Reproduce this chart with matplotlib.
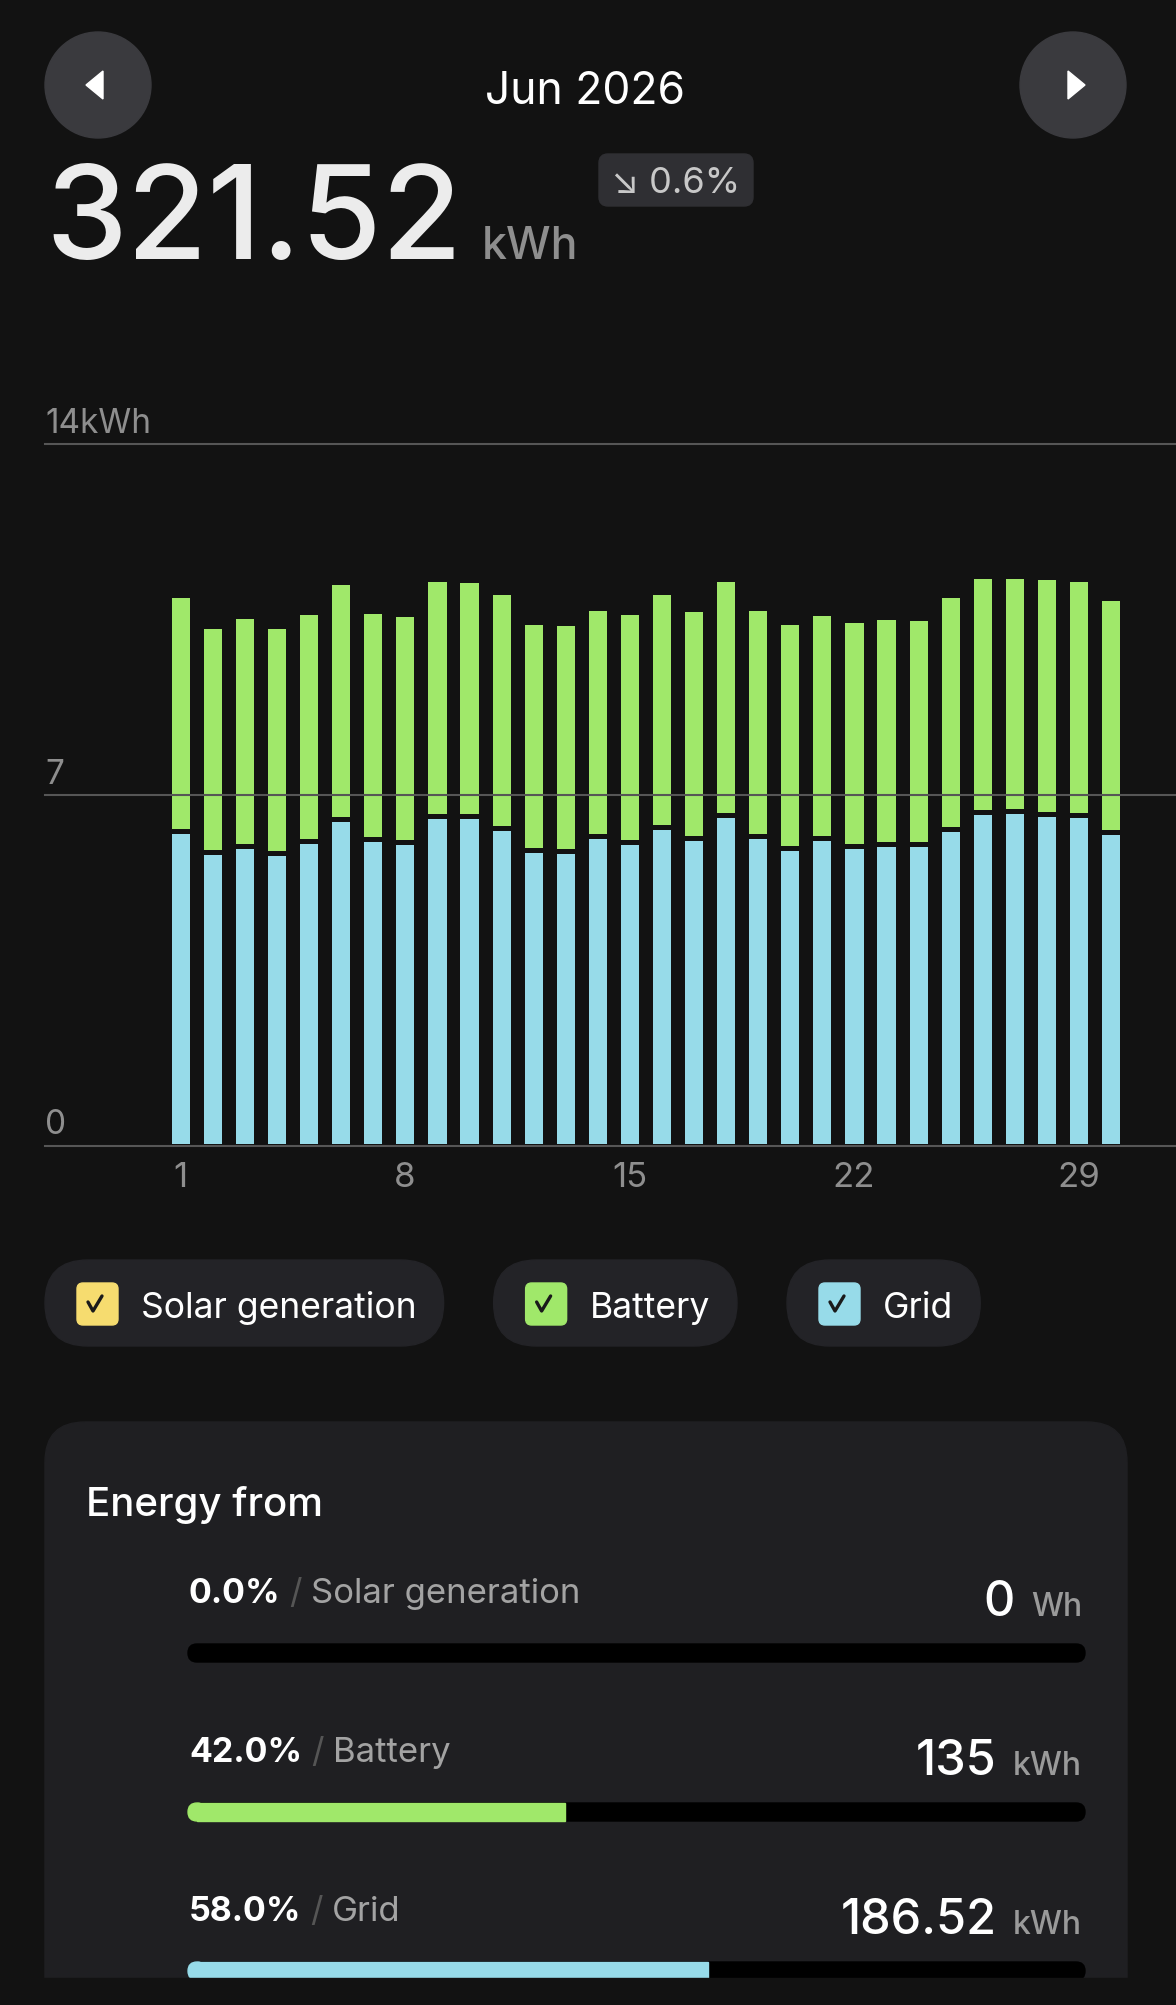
import matplotlib.pyplot as plt
from matplotlib.patches import FancyBboxPatch, Rectangle, Circle, Polygon
import matplotlib.transforms as mtransforms

plt.rcParams['font.family'] = ['Inter', 'DejaVu Sans']

# ---- data ----
days = list(range(1, 31))
grid_kwh = [6.27, 5.85, 5.98, 5.84, 6.08, 6.52, 6.11, 6.05, 6.57, 6.57,
            6.34, 5.90, 5.88, 6.17, 6.06, 6.36, 6.14, 6.59, 6.17, 5.94,
            6.13, 5.97, 6.02, 6.01, 6.32, 6.65, 6.67, 6.61, 6.59, 6.25]
battery_kwh = [4.71, 4.52, 4.59, 4.53, 4.57, 4.72, 4.56, 4.56, 4.74, 4.72,
               4.70, 4.54, 4.54, 4.56, 4.58, 4.69, 4.56, 4.71, 4.56, 4.50,
               4.50, 4.52, 4.53, 4.51, 4.67, 4.71, 4.70, 4.74, 4.71, 4.68]
solar_kwh = [0.0] * 30
y_ticks = [0, 7, 14]
y_tick_labels = ['0', '7', '14kWh']
x_ticks = [1, 8, 15, 22, 29]

month_label = 'Jun 2026'
total_value = '321.52'
total_unit = 'kWh'
change_label = '↘ 0.6%'
series_names = ['Solar generation', 'Battery', 'Grid']
series_colors = ['#f6dc6f', '#a0e86a', '#97dbe9']
share_pct = [0.0, 42.0, 58.0]
share_value = ['0', '135', '186.52']
share_unit = ['Wh', 'kWh', 'kWh']

W, H, DPI = 1176, 2006, 100
BG = '#121212'
CARD = '#1f1f22'
GRAY = '#8e8e8e'

fig = plt.figure(figsize=(W / DPI, H / DPI), dpi=DPI, facecolor=BG)
ui = fig.add_axes([0, 0, 1, 1])
ui.set_xlim(0, W)
ui.set_ylim(H, 0)
ui.axis('off')
renderer = fig.canvas.get_renderer()


def width(t):
    return t.get_window_extent(renderer=renderer).width


# header
for cx, pts in [(98, [(86, 86), (103, 72), (103, 100)]),
                (1073, [(1085, 86), (1068, 72), (1068, 100)])]:
    ui.add_patch(Circle((cx, 86), 53, color='#3a3a3e'))
    ui.add_patch(Polygon(pts, closed=True, color='white'))
ui.text(585, 104, month_label, ha='center', va='baseline', color='white', fontsize=32)

t = ui.text(45, 259, total_value, va='baseline', color='#ececec', fontsize=94,
            fontweight='medium')
ui.text(45 + width(t) + 20, 259, total_unit, va='baseline', color=GRAY, fontsize=32,
        fontweight='medium')
ui.add_patch(FancyBboxPatch((599, 155), 154, 52, boxstyle='round,pad=0,rounding_size=9',
                            color='#2f2f33'))
ui.text(676, 193, change_label, ha='center', va='baseline', color='#c8c8c8', fontsize=26)

# chart
top_px, base_px = 445, 1146.5
ax = fig.add_axes([45 / W, (H - base_px) / H, (W - 45) / W, (base_px - top_px) / H])
ax.set_facecolor('none')
ax.set_xlim(-3.22, 32.04)
ax.set_ylim(0, 14)
for s in ax.spines.values():
    s.set_visible(False)

bw = 0.72
ax.bar(days, grid_kwh, width=bw, color=series_colors[2], edgecolor=BG, linewidth=3.6, zorder=2)
ax.bar(days, battery_kwh, bottom=grid_kwh, width=bw, color=series_colors[1],
       edgecolor=BG, linewidth=3.6, zorder=2)
tops = [g + b for g, b in zip(grid_kwh, battery_kwh)]
ax.bar(days, solar_kwh, bottom=tops, width=bw, color=series_colors[0], linewidth=0, zorder=2)

for yv in y_ticks:
    ax.axhline(yv, color='#565656', lw=1.5, clip_on=False, zorder=3)
lab_tr = mtransforms.offset_copy(ax.get_yaxis_transform(), fig=fig, x=0, y=12, units='dots')
for yv, lab in zip(y_ticks, y_tick_labels):
    ax.text(0, yv, lab, transform=lab_tr, ha='left', va='baseline', color=GRAY, fontsize=24)

ax.set_yticks([])
ax.set_xticks(x_ticks)
ax.set_xticklabels([str(d) for d in x_ticks])
ax.tick_params(axis='x', length=0, pad=11, labelsize=25, labelcolor=GRAY)

# legend chips
left = 45
for name, col in zip(series_names, series_colors):
    tt = ui.text(left + 96, 1318, name, va='baseline', color='white', fontsize=25.6)
    right = left + 96 + width(tt) + 27
    ui.add_patch(FancyBboxPatch((left, 1261), right - left, 86,
                                boxstyle='round,pad=0,rounding_size=43', color='#232327', zorder=0))
    sx = left + 32
    ui.add_patch(FancyBboxPatch((sx, 1284), 41, 42, boxstyle='round,pad=0,rounding_size=6',
                                color=col, zorder=1))
    ui.plot([sx + 11, sx + 16, sx + 25], [1303, 1312, 1297], color='#1a1a1a', lw=2.4,
            solid_capstyle='round', solid_joinstyle='round', zorder=2)
    left = right + 50

# energy card
ui.add_patch(FancyBboxPatch((45, 1423), 1082, 640, boxstyle='round,pad=0,rounding_size=40',
                            color=CARD, zorder=0))
ui.text(86, 1516, 'Energy from', va='baseline', color='white', fontsize=29, fontweight='medium')

track_l, track_r = 188, 1085
for i in range(3):
    yb = 1603 + 159 * i
    t1 = ui.text(189, yb, f'{share_pct[i]:.1f}%', va='baseline', color='white',
                 fontsize=24.5, fontweight='bold')
    x = 189 + width(t1) + 9
    t2 = ui.text(x, yb, '/', va='baseline', color='#555555', fontsize=25)
    x += width(t2) + 9
    ui.text(x, yb, series_names[i], va='baseline', color='#a3a3a3', fontsize=25)
    tu = ui.text(1082, yb + 13, share_unit[i], ha='right', va='baseline', color='#9a9a9a',
                 fontsize=23, fontweight='medium')
    ui.text(1082 - width(tu) - 16, yb + 13, share_value[i], ha='right', va='baseline',
            color='white', fontsize=35, fontweight='medium')
    ty = yb + 42
    ui.add_patch(FancyBboxPatch((track_l, ty), track_r - track_l, 18,
                                boxstyle='round,pad=0,rounding_size=9', color='black', zorder=1))
    fill_r = track_l + (track_r - track_l) * share_pct[i] / 100
    if fill_r > track_l:
        ui.add_patch(FancyBboxPatch((track_l, ty), 18, 18, boxstyle='round,pad=0,rounding_size=9',
                                    color=series_colors[i], zorder=2))
        ui.add_patch(Rectangle((track_l + 9, ty), fill_r - track_l - 9, 18,
                               color=series_colors[i], zorder=2))

ui.add_patch(Rectangle((0, 1979), W, H - 1979, color=BG, zorder=5))

fig.savefig('out.png', dpi=DPI, facecolor=BG)
